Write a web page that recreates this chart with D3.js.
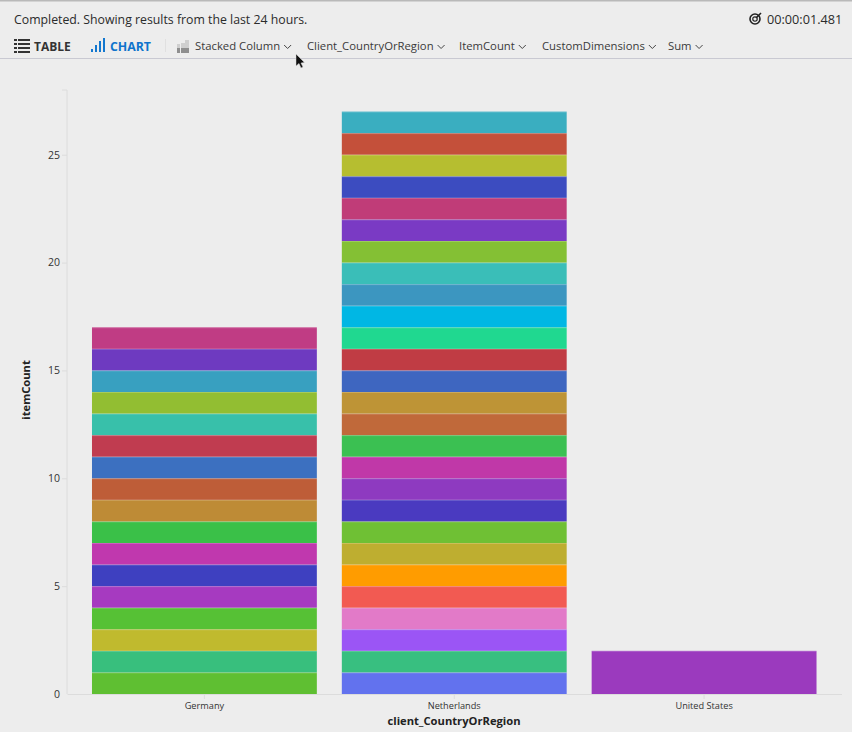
<!DOCTYPE html>
<html>
<head>
<meta charset="utf-8">
<script src="https://cdnjs.cloudflare.com/ajax/libs/d3/7.8.5/d3.min.js"></script>
<style>
    html, body { margin: 0; padding: 0; background: #ededed; }
    svg { display: block; }
    text { font-family: "Open Sans", sans-serif; fill: #2b2b2b; }
    .axis path, .axis line { stroke: #dcdcdc; }
    .axis text { font-size: 9.2px; fill: #333; font-family: "Open Sans", sans-serif; }
    .y-axis text { font-size: 10.5px; }
    .title { font-size: 11.2px; font-weight: 700; fill: #222; }
    .menu { font-size: 11.3px; fill: #3a3a3a; }
</style>
</head>
<body>
<svg id="chart" width="852" height="732"></svg>
<script>
// values, each list runs from the bottom of the stack up
const categories = ["Germany", "Netherlands", "United States"];
const yTicks = [0, 5, 10, 15, 20, 25];

const germanyValues = [1, 1, 1, 1, 1, 1, 1, 1, 1, 1, 1, 1, 1, 1, 1, 1, 1];
const germanyColors = ["#5fbf32", "#38bf7d", "#c0ba2e", "#56c135", "#a63ac0", "#3e40c0", "#c038ae",
    "#3ac048", "#be8b36", "#be5d38", "#3c70c0", "#c03c50", "#38c0aa", "#92be32", "#38a0c0", "#6e3ac0", "#c03c84"];

const netherlandsValues = [1, 1, 1, 1, 1, 1, 1, 1, 1, 1, 1, 1, 1, 1, 1, 1, 1, 1, 1, 1, 1, 1, 1, 1, 1, 1, 1];
const netherlandsColors = ["#6272ee", "#38bf80", "#9b55f5", "#e27ac8", "#f25a52", "#ff9c00", "#beae30",
    "#6fc034", "#4a3ac0", "#8e3ac0", "#c038a8", "#3bc052", "#c0693a", "#be9436", "#3e66c0", "#c03c44",
    "#20d890", "#00b7e4", "#3c96c0", "#3abeb8", "#84c034", "#7a3ac4", "#c03c78", "#3c4cc0", "#b6be30",
    "#c4503a", "#3aaec0"];

const unitedStatesValues = [2];
const unitedStatesColors = ["#9b3abe"];

const menuItems = [
    { label: "Stacked Column", x: 195 },
    { label: "Client_CountryOrRegion", x: 307 },
    { label: "ItemCount", x: 459 },
    { label: "CustomDimensions", x: 542 },
    { label: "Sum", x: 668 }
];

const svg = d3.select("#chart");

// --- header ---
svg.append("rect").attr("width", 852).attr("height", 1.5).attr("fill", "#b9b9b9");
svg.append("rect").attr("y", 58).attr("width", 852).attr("height", 1).attr("fill", "#c9c9d2");

svg.append("text").attr("x", 14).attr("y", 24).style("font-size", "12.3px")
    .text("Completed. Showing results from the last 24 hours.");
svg.append("text").attr("x", 767).attr("y", 24).style("font-size", "12.7px").text("00:00:01.481");

// target icon
const target = svg.append("g").attr("transform", "translate(755,19)");
target.append("circle").attr("r", 5).attr("fill", "none").attr("stroke", "#222").attr("stroke-width", 1.6);
target.append("circle").attr("r", 2.2).attr("fill", "none").attr("stroke", "#222").attr("stroke-width", 1.2);
target.append("path").attr("d", "M1,-1L6,-6").attr("stroke", "#222").attr("stroke-width", 1.6);

// table icon
const tableIcon = svg.append("g").attr("fill", "#333");
[40, 44, 48, 52].forEach(y => {
    tableIcon.append("rect").attr("x", 14).attr("y", y - 1).attr("width", 3).attr("height", 2);
    tableIcon.append("rect").attr("x", 18).attr("y", y - 1).attr("width", 12).attr("height", 2);
});
svg.append("text").attr("x", 34).attr("y", 50.5).style("font-size", "12px").style("font-weight", 700)
    .style("fill", "#333").text("TABLE");

// chart icon
const chartIcon = svg.append("g").attr("fill", "#1277cf");
[[91, 3], [95, 7], [99, 11], [103, 14]].forEach(b => {
    chartIcon.append("rect").attr("x", b[0]).attr("y", 52 - b[1]).attr("width", 2).attr("height", b[1]);
});
svg.append("text").attr("x", 110).attr("y", 50.5).style("font-size", "12.3px").style("font-weight", 700)
    .style("fill", "#0f74cc").text("CHART");

svg.append("rect").attr("x", 165).attr("y", 39).attr("width", 1).attr("height", 13).attr("fill", "#e0e0e0");

// stacked column icon
const stackedIcon = svg.append("g");
[[177, 44, 3], [181, 43, 4], [185, 40, 4]].forEach(b => {
    stackedIcon.append("rect").attr("x", b[0]).attr("y", b[1]).attr("width", b[2]).attr("height", 53 - b[1]).attr("fill", "#cfcfcf");
    stackedIcon.append("rect").attr("x", b[0]).attr("y", 48).attr("width", b[2]).attr("height", 5).attr("fill", "#8f8f8f");
});

menuItems.forEach(m => {
    const label = svg.append("text").attr("class", "menu").attr("x", m.x).attr("y", 50).text(m.label);
    const end = m.x + label.node().getComputedTextLength();
    svg.append("path").attr("d", `M${end + 4},45l3.5,3.5l3.5,-3.5`)
        .attr("fill", "none").attr("stroke", "#444").attr("stroke-width", 1);
});

// --- chart ---
const x = d3.scaleBand().domain(categories).range([67, 841.5]).padding(0.1);
const y = d3.scaleLinear().domain([0, 28]).range([694, 90]);

const stacks = [
    { name: categories[0], values: germanyValues, colors: germanyColors },
    { name: categories[1], values: netherlandsValues, colors: netherlandsColors },
    { name: categories[2], values: unitedStatesValues, colors: unitedStatesColors }
];

stacks.forEach(stack => {
    let total = 0;
    const segments = stack.values.map((v, i) => {
        const seg = { y0: total, y1: total + v, color: stack.colors[i] };
        total += v;
        return seg;
    });

    const g = svg.append("g");
    g.selectAll("rect").data(segments).enter().append("rect")
        .attr("x", x(stack.name))
        .attr("y", d => y(d.y1))
        .attr("width", x.bandwidth())
        .attr("height", d => y(d.y0) - y(d.y1))
        .attr("fill", d => d.color);

    // thin light edge on top of every segment
    g.selectAll("line").data(segments).enter().append("line")
        .attr("x1", x(stack.name))
        .attr("x2", x(stack.name) + x.bandwidth())
        .attr("y1", d => y(d.y1) + 0.5)
        .attr("y2", d => y(d.y1) + 0.5)
        .attr("stroke", "#fff")
        .attr("stroke-opacity", 0.2);
});

const xAxis = svg.append("g").attr("class", "axis")
    .attr("transform", "translate(0,694)")
    .call(d3.axisBottom(x).tickSize(5).tickSizeOuter(0).tickPadding(3));

const yAxis = svg.append("g").attr("class", "axis y-axis")
    .attr("transform", "translate(67,0)")
    .call(d3.axisLeft(y).tickValues(yTicks).tickSize(5).tickPadding(2));
yAxis.select(".domain").attr("d", `M-5,${y(28)}H0V${y(0)}`);
yAxis.selectAll(".tick").filter(d => d === 0).select("line").remove();

svg.append("text").attr("class", "title").attr("text-anchor", "middle")
    .attr("x", 454).attr("y", 725).text("client_CountryOrRegion");
svg.append("text").attr("class", "title").attr("text-anchor", "middle")
    .attr("transform", "translate(30,390) rotate(-90)").text("itemCount");

// mouse pointer from the screenshot
svg.append("path")
    .attr("d", "M296,54L296,66L299,63.5L301,68L303,67L301,63L304.5,62.5Z")
    .attr("fill", "#111").attr("stroke", "#ddd").attr("stroke-width", 0.5);
</script>
</body>
</html>
